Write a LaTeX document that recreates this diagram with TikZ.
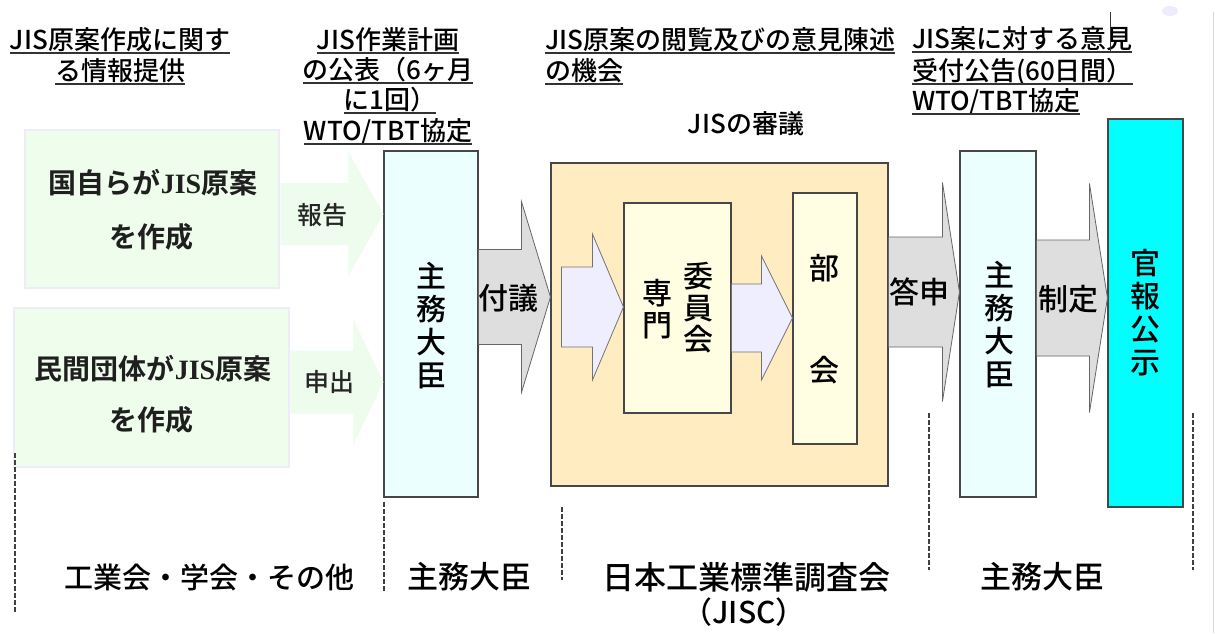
\documentclass[tikz,border=0pt]{standalone}
\usepackage{fontspec}
\setmainfont{Noto Sans CJK JP Medium}[BoldFont={Noto Sans CJK JP Bold}]
\newfontfamily\jisserif{Liberation Serif}
\usetikzlibrary{calc,shadows}
\definecolor{gbox}{HTML}{EEFDEC}
\definecolor{gborder}{HTML}{ECECFA}
\definecolor{garrow}{HTML}{EEFCEE}
\definecolor{mbox}{HTML}{EBFFFF}
\definecolor{jiscbox}{HTML}{FFECC0}
\definecolor{ybox}{HTML}{FFFEE2}
\definecolor{iarrow}{HTML}{EEEEFF}
\definecolor{grayarrow}{HTML}{DEDEDE}
\definecolor{kanpobox}{HTML}{00FFFF}
\newcommand\blockarrow[7]{%
  \path[#1] let \p1=#2, \p2=#3, \p3=(0,#4), \p4=(0,{#4-#5}), \p5=(0,{#4+#5}),
    \p6=(0,{#4-#6}), \p7=(0,{#4+#6}) in
  (\x1,\y4) -- ({\x2-#7pt},\y4) -- ({\x2-#7pt},\y6) -- (\x2,\y3) --
  ({\x2-#7pt},\y7) -- ({\x2-#7pt},\y5) -- (\x1,\y5) -- cycle;}
\begin{document}
\begin{tikzpicture}[x=1pt,y=-1pt,
  gboxst/.style={rectangle, fill=gbox, draw=gborder, line width=2.5pt, inner sep=0pt},
  boxst/.style={rectangle, draw=black!72, line width=1.1pt, inner sep=0pt,
    drop shadow={shadow xshift=1pt,shadow yshift=-1pt,opacity=.3}},
  garr/.style={fill=garrow, draw=none},
  grarr/.style={fill=grayarrow, draw=black!60, line width=0.8pt},
  iarr/.style={fill=iarrow, draw=black!55, line width=0.8pt},
  ulline/.style={draw=black!80, line width=1.8pt},
  hd/.style={inner sep=0pt, outer sep=0pt, font=\fontsize{26}{30}\selectfont,
    text height=22pt, text depth=4pt,
    append after command={(\tikzlastnode.south west) edge[ulline] (\tikzlastnode.south east)}},
  vt/.style={inner sep=0pt, align=center, font=\fontsize{30}{33}\selectfont},
  lbl/.style={inner sep=0pt, font=\fontsize{30}{34}\selectfont},
  gt/.style={inner sep=0pt, font=\fontsize{28}{32}\selectfont\bfseries, text=black!88},
  bt/.style={inner sep=0pt, font=\fontsize{31}{36}\selectfont},
  sep/.style={draw=black!75, line width=1.5pt, dash pattern=on 4.5pt off 2.5pt}
]
\useasboundingbox (0,0) rectangle (1215,633);
\fill[white] (0,0) rectangle (1215,633);

% boxes
\node[gboxst, minimum width=254pt, minimum height=158pt] (g1) at (152,209) {};
\node[gboxst, minimum width=275pt, minimum height=159pt] (g2) at (151.5,387.5) {};
\node[boxst, fill=mbox, minimum width=94pt, minimum height=346pt] (m1) at (431,324) {};
\node[boxst, fill=jiscbox, minimum width=337pt, minimum height=323pt] (jisc) at (719.5,324.5) {};
\node[boxst, fill=ybox, minimum width=107pt, minimum height=210pt] (sen) at (677.5,308) {};
\node[boxst, fill=ybox, minimum width=64pt, minimum height=251pt] (bukai) at (825,318.5) {};
\node[boxst, fill=mbox, minimum width=76pt, minimum height=346pt] (m2) at (998,324) {};
\node[boxst, fill=kanpobox, minimum width=75pt, minimum height=388pt] (kanpo) at (1145.5,313) {};

% block arrows
\blockarrow{garr}{(g1.east)}{(m1.west)}{214}{31}{62}{35}
\blockarrow{garr}{(g2.east)}{(m1.west)}{382}{31.5}{62.5}{30}
\blockarrow{grarr}{(m1.east)}{(jisc.west)}{297}{47.5}{95.5}{29}
\blockarrow{iarr}{($(jisc.west)+(11,0)$)}{(sen.west)}{307}{40}{73}{31}
\blockarrow{iarr}{(sen.east)}{(bukai.west)}{318}{34}{62}{31}
\blockarrow{grarr}{(jisc.east)}{(m2.west)}{292}{55}{109.5}{17}
\blockarrow{grarr}{(m2.east)}{(kanpo.west)}{298}{58}{114.5}{18}

% headers
\node[hd] (h1a) at (120,40) {JIS原案作成に関す};
\node[hd] (h1b) at (120,71) {る情報提供};
\node[hd] (h2a) at (388,40) {JIS作業計画};
\node[hd] (h2b) at (388,70) {の公表（6ヶ月};
\node[hd] (h2c) at (390,100) {に1回）};
\node[hd] (h2d) at (388,131) {WTO/TBT協定};
\node[hd, anchor=west] (h3a) at (545,40) {JIS原案の閲覧及びの意見陳述};
\node[hd, anchor=west] (h3b) at (545,71) {の機会};
\node[hd, anchor=west] (h4a) at (912,39) {JIS案に対する意見};
\node[hd, anchor=west] (h4b) at (912,71) {受付公告(60日間）};
\node[hd, anchor=west] (h4c) at (912,101) {WTO/TBT協定};
\node[inner sep=0pt, font=\fontsize{26}{30}\selectfont] (shingi) at (746,124) {JISの審議};

% box texts
\node[gt] (t1a) at (153,183) {国自らが{\jisserif JIS}原案};
\node[gt] (t1b) at (151,237) {を作成};
\node[gt] (t2a) at (153,369) {民間団体が{\jisserif JIS}原案};
\node[gt] (t2b) at (151,420) {を作成};
\node[inner sep=0pt, font=\fontsize{25}{30}\selectfont, text=black!85] (hokoku) at (322,215) {報告};
\node[inner sep=0pt, font=\fontsize{25}{30}\selectfont, text=black!85] (moshide) at (329,382) {申出};
\node[vt] (m1t) at (431,326) {主\\務\\大\\臣};
\node[lbl] (fugi) at (508,298) {付議};
\node[vt, font=\fontsize{30}{32}\selectfont] (sent) at (657,309) {専\\門};
\node[vt, font=\fontsize{30}{31.5}\selectfont] (iint) at (698,308) {委\\員\\会};
\node[vt, font=\fontsize{30}{102}\selectfont] (bukait) at (824,319) {部\\会};
\node[lbl] (toshin) at (919,292) {答申};
\node[vt] (m2t) at (999,325) {主\\務\\大\\臣};
\node[lbl] (seitei) at (1068,299) {制定};
\node[vt] (kanpot) at (1145,313) {官\\報\\公\\示};

% bottom labels
\node[bt, font=\fontsize{29}{34}\selectfont] (b1) at (209.5,577) {工業会・学会・その他};
\node[bt] (b2) at (469,577) {主務大臣};
\node[bt, font=\fontsize{32}{36}\selectfont] (b3) at (746.5,577) {日本工業標準調査会};
\node[bt, font=\fontsize{30}{36}\selectfont] (b3b) at (744,612) {（JISC）};
\node[bt] (b4) at (1042,577) {主務大臣};

% separators
\draw[sep] (15,453) -- (15,612);
\draw[sep] (384,502) -- (384,592);
\draw[sep] (562,507) -- (562,580);
\draw[sep] (929,413) -- (929,570);
\draw[sep] (1193,413) -- (1193,570);

% stray marks
\draw[black!80, line width=1pt] (1110,12) -- (1110,52);
\fill[gborder] (1170,11) ellipse [x radius=8, y radius=5];
\draw[black!15, line width=1pt] (1213,12) -- (1213,633);
\end{tikzpicture}
\end{document}
